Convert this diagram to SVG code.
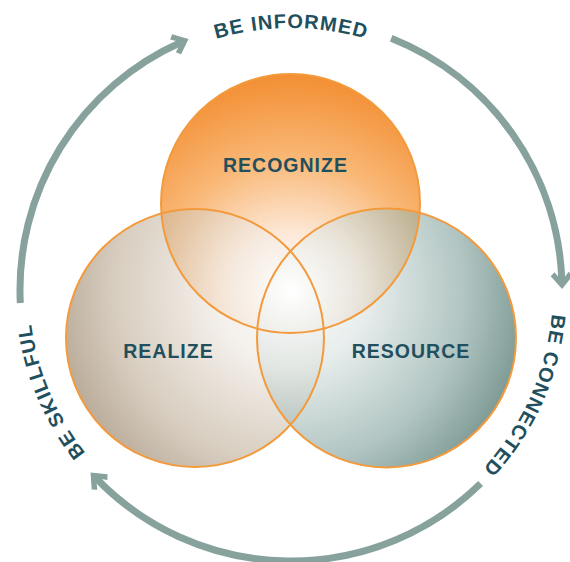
<svg xmlns="http://www.w3.org/2000/svg" xmlns:xlink="http://www.w3.org/1999/xlink" width="570" height="562" viewBox="0 0 570 562">
  <style>
    .fill-soft { fill-opacity: 0.6; }
    .outline { fill: none; stroke: #f39a3c; stroke-width: 2; }
    .label { font-family: "Liberation Sans", Arial, sans-serif; font-weight: bold; font-size: 19.5px; fill: #214f5d; text-anchor: middle; letter-spacing: 1px; }
    .ring-label { font-family: "Liberation Sans", Arial, sans-serif; font-weight: bold; font-size: 20px; fill: #214f5d; text-anchor: middle; letter-spacing: 1.1px; }
    .arc { fill: none; stroke: #87a29d; stroke-width: 7; marker-end: url(#head); }
  </style>
  <defs>
    <marker id="head" markerUnits="userSpaceOnUse" orient="auto" refX="0" refY="0" markerWidth="40" markerHeight="40" overflow="visible">
      <polygon points="8,0 -5,-11 -9,-7 0,0 -9,7 -5,11" fill="#87a29d"/>
    </marker>
    <radialGradient id="gTop" gradientUnits="userSpaceOnUse" cx="291" cy="292" r="225">
      <stop offset="0" stop-color="#ffffff"/>
      <stop offset="0.25" stop-color="#fdeadb"/>
      <stop offset="0.6" stop-color="#f9b775"/>
      <stop offset="1" stop-color="#f28b2d"/>
    </radialGradient>
    <radialGradient id="gLeft" gradientUnits="userSpaceOnUse" cx="291" cy="290" r="250">
      <stop offset="0" stop-color="#ffffff"/>
      <stop offset="0.3" stop-color="#ede6de"/>
      <stop offset="0.7" stop-color="#bead96"/>
      <stop offset="1" stop-color="#82694a"/>
    </radialGradient>
    <radialGradient id="gRight" gradientUnits="userSpaceOnUse" cx="291" cy="290" r="250">
      <stop offset="0" stop-color="#ffffff"/>
      <stop offset="0.3" stop-color="#d9e3e1"/>
      <stop offset="0.7" stop-color="#7b9d98"/>
      <stop offset="1" stop-color="#18493f"/>
    </radialGradient>
    <path id="ring" d="M 29,290 A 262 262 0 1 1 553,290 A 262 262 0 1 1 29,290"/>
  </defs>
  <rect width="570" height="562" fill="#ffffff"/>

  <g id="connectors">
    <path class="arc" d="M 20.3,303 A 271 271 0 0 1 181.2,42.2"/>
    <path class="arc" d="M 391.2,38.2 A 271 271 0 0 1 561.85,281"/>
    <path class="arc" d="M 480.6,483.6 A 271 271 0 0 1 96.1,478.3"/>
  </g>

  <g id="ring-labels">
    <text class="ring-label"><textPath xlink:href="#ring" href="#ring" startOffset="411.5">BE INFORMED</textPath></text>
    <text class="ring-label"><textPath xlink:href="#ring" href="#ring" startOffset="933.5">BE CONNECTED</textPath></text>
    <text class="ring-label"><textPath xlink:href="#ring" href="#ring" startOffset="1541">BE SKILLFUL</textPath></text>
  </g>

  <g id="node-recognize">
    <circle cx="290.5" cy="203.5" r="129.5" fill="url(#gTop)"/>
  </g>
  <g id="node-realize">
    <circle class="fill-soft" cx="195" cy="338" r="129" fill="url(#gLeft)"/>
  </g>
  <g id="node-resource">
    <circle class="fill-soft" cx="386.5" cy="338" r="129.5" fill="url(#gRight)"/>
  </g>
  <g id="outlines">
    <circle class="outline" cx="290.5" cy="203.5" r="129.5"/>
    <circle class="outline" cx="195" cy="338" r="129"/>
    <circle class="outline" cx="386.5" cy="338" r="129.5"/>
  </g>
  <g id="node-labels">
    <text class="label" x="285.5" y="172">RECOGNIZE</text>
    <text class="label" x="168.5" y="358">REALIZE</text>
    <text class="label" x="411" y="358">RESOURCE</text>
  </g>
</svg>
